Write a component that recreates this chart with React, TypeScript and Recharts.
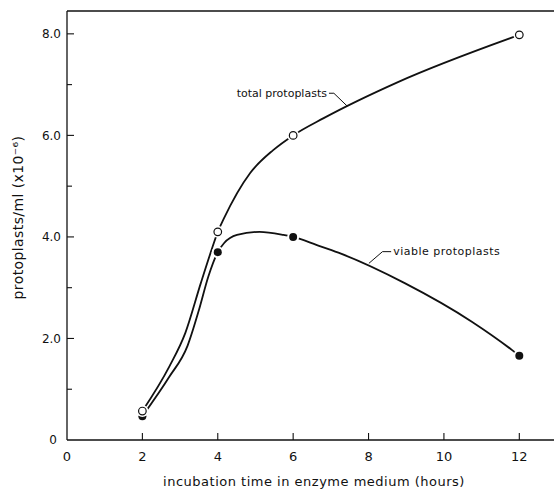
import {
  ComposedChart,
  Line,
  Scatter,
  XAxis,
  YAxis,
  ReferenceLine,
  ReferenceDot,
} from "recharts";

// measured points (hours, protoplasts/ml x10^-6)
const hours = [2, 4, 6, 12];
const totalProtoplasts = [0.57, 4.1, 6.0, 7.98];
const viableProtoplasts = [0.47, 3.7, 4.0, 1.66];

// hand drawn curves through the points
const totalCurveX = [2, 2.71, 3.14, 3.55, 3.86, 4, 4.16, 4.86, 5.47, 6, 6.81, 8.78, 12];
const totalCurveY = [0.57, 1.44, 2.11, 3.09, 3.8, 4.1, 4.36, 5.26, 5.71, 6.0, 6.34, 7.05, 7.98];
const viableCurveX = [2, 2.71, 3.2, 3.5, 3.75, 4, 4.17, 4.51, 5.11, 5.74, 6, 6.63, 7.2, 8.96, 10.74, 11.81, 12];
const viableCurveY = [0.47, 1.24, 1.86, 2.56, 3.22, 3.7, 3.88, 4.04, 4.1, 4.04, 4.0, 3.84, 3.69, 3.09, 2.33, 1.77, 1.66];

const xTicks = [0, 2, 4, 6, 8, 10, 12];
const yTicks = [0, 1, 2, 3, 4, 5, 6, 7, 8];
const yTickLabels = ["0", "", "2.0", "", "4.0", "", "6.0", "", "8.0"];

// label leaders (data units)
const totalLeader = [
  { x: 6.95, y: 6.83 },
  { x: 7.08, y: 6.83 },
  { x: 7.43, y: 6.58 },
];
const viableLeader = [
  { x: 8.6, y: 3.71 },
  { x: 8.37, y: 3.71 },
  { x: 8.01, y: 3.48 },
];

const FONT = "DejaVu Sans";
const INK = "#111";

const toPoints = (xs: number[], ys: number[]) => xs.map((x, i) => ({ x, y: ys[i] }));

const totalPoints = toPoints(hours, totalProtoplasts);
const viablePoints = toPoints(hours, viableProtoplasts);
const totalCurve = toPoints(totalCurveX, totalCurveY);
const viableCurve = toPoints(viableCurveX, viableCurveY);

const XTick = (props: any) => {
  const { x, y, payload } = props;
  return (
    <g>
      {payload.value !== 0 && (
        <line x1={x} x2={x} y1={y} y2={y - 7} stroke={INK} strokeWidth={1.1} />
      )}
      <text x={x} y={y + 21} textAnchor="middle" fontFamily={FONT} fontSize={13} fill={INK}>
        {payload.value}
      </text>
    </g>
  );
};

const YTick = (props: any) => {
  const { x, y, payload } = props;
  const label = yTickLabels[yTicks.indexOf(payload.value)];
  const major = label !== "";
  return (
    <g>
      {payload.value !== 0 && (
        <line x1={x} x2={x + (major ? 7 : 5)} y1={y} y2={y} stroke={INK} strokeWidth={1.1} />
      )}
      {major && (
        <text
          x={x - (payload.value === 0 ? 10 : 6)}
          y={y}
          dy="0.35em"
          textAnchor="end"
          fontFamily={FONT}
          fontSize={12}
          fill={INK}
        >
          {label}
        </text>
      )}
    </g>
  );
};

const OpenDot = (p: any) => (
  <g>
    <circle cx={p.cx} cy={p.cy} r={6} fill="#fff" />
    <circle cx={p.cx} cy={p.cy} r={3.8} fill="#fff" stroke={INK} strokeWidth={1.2} />
  </g>
);

const FilledDot = (p: any) => (
  <g>
    <circle cx={p.cx} cy={p.cy} r={6} fill="#fff" />
    <circle cx={p.cx} cy={p.cy} r={4} fill={INK} />
  </g>
);

export default function App() {
  return (
    <div
      style={{
        position: "absolute",
        left: 0,
        top: 0,
        width: 554,
        height: 491,
        overflow: "hidden",
        background: "#fff",
      }}
    >
      <ComposedChart width={557} height={491} margin={{ top: 11, right: 0, bottom: 0, left: 0 }}>
        <XAxis
          type="number"
          dataKey="x"
          domain={[0, 13]}
          ticks={xTicks}
          interval={0}
          height={51}
          tickSize={0}
          tickMargin={0}
          tickLine={false}
          axisLine={{ stroke: INK, strokeWidth: 1.3 }}
          tick={<XTick />}
          label={{
            content: ({ viewBox }: any) => (
              <text
                x={viewBox.x + viewBox.width / 2 + 2}
                y={viewBox.y + 46}
                textAnchor="middle"
                fontFamily={FONT}
                fontSize={13}
                letterSpacing={0.5}
                fill={INK}
              >
                incubation time in enzyme medium (hours)
              </text>
            ),
          }}
        />
        <YAxis
          type="number"
          dataKey="y"
          domain={[0, 8.45]}
          ticks={yTicks}
          interval={0}
          width={67}
          tickSize={0}
          tickMargin={0}
          tickLine={false}
          axisLine={{ stroke: INK, strokeWidth: 1.3 }}
          tick={<YTick />}
          label={{
            content: ({ viewBox }: any) => {
              const cx = viewBox.x + 18.5;
              const cy = viewBox.y + viewBox.height / 2 - 8;
              return (
                <text
                  x={cx}
                  y={cy}
                  dy="0.35em"
                  textAnchor="middle"
                  transform={`rotate(-90 ${cx} ${cy})`}
                  fontFamily={FONT}
                  fontSize={14}
                  letterSpacing={0.4}
                  fill={INK}
                >
                  protoplasts/ml (x10⁻⁶)
                </text>
              );
            },
          }}
        />
        <ReferenceLine y={8.45} stroke={INK} strokeWidth={1.3} />

        <Line
          data={totalCurve}
          dataKey="y"
          type="monotone"
          stroke={INK}
          strokeWidth={1.8}
          dot={false}
          activeDot={false}
          isAnimationActive={false}
        />
        <Line
          data={viableCurve}
          dataKey="y"
          type="monotone"
          stroke={INK}
          strokeWidth={1.8}
          dot={false}
          activeDot={false}
          isAnimationActive={false}
        />

        <ReferenceLine segment={[totalLeader[0], totalLeader[1]]} stroke={INK} strokeWidth={1} />
        <ReferenceLine segment={[totalLeader[1], totalLeader[2]]} stroke={INK} strokeWidth={1} />
        <ReferenceLine segment={[viableLeader[0], viableLeader[1]]} stroke={INK} strokeWidth={1} />
        <ReferenceLine segment={[viableLeader[1], viableLeader[2]]} stroke={INK} strokeWidth={1} />
        <ReferenceDot
          x={totalLeader[0].x}
          y={totalLeader[0].y}
          r={0}
          fill="none"
          stroke="none"
          label={{
            content: ({ viewBox }: any) => (
              <text
                x={viewBox.x - 2}
                y={viewBox.y}
                dy="0.35em"
                textAnchor="end"
                fontFamily={FONT}
                fontSize={11}
                fill={INK}
              >
                total protoplasts
              </text>
            ),
          }}
        />
        <ReferenceDot
          x={viableLeader[0].x}
          y={viableLeader[0].y}
          r={0}
          fill="none"
          stroke="none"
          label={{
            content: ({ viewBox }: any) => (
              <text
                x={viewBox.x + 2}
                y={viewBox.y}
                dy="0.35em"
                textAnchor="start"
                fontFamily={FONT}
                fontSize={11}
                letterSpacing={0.5}
                fill={INK}
              >
                viable protoplasts
              </text>
            ),
          }}
        />

        <Scatter data={viablePoints} dataKey="y" shape={<FilledDot />} isAnimationActive={false} />
        <Scatter data={totalPoints} dataKey="y" shape={<OpenDot />} isAnimationActive={false} />
      </ComposedChart>
    </div>
  );
}
